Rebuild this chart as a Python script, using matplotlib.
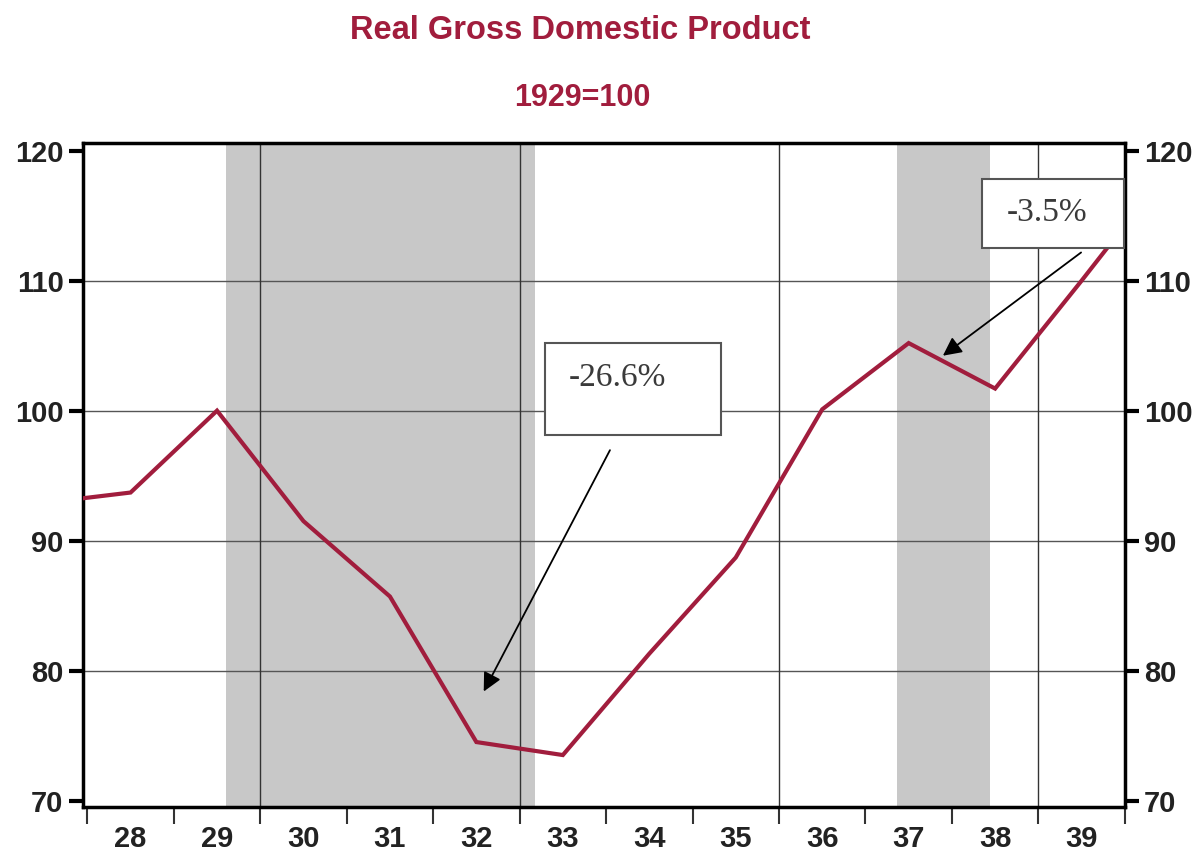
import matplotlib
matplotlib.use("Agg")
import matplotlib.pyplot as plt
from matplotlib.patches import Rectangle
from matplotlib.ticker import FixedLocator, NullFormatter

# annual real GDP, 1929 = 100 (plotted at mid-year)
years = [1927, 1928, 1929, 1930, 1931, 1932, 1933, 1934, 1935, 1936, 1937, 1938, 1939, 1940]
gdp = [92.9, 93.7, 100.0, 91.5, 85.7, 74.5, 73.5, 81.3, 88.7, 100.1, 105.2, 101.7, 110.0, 118.5]

# recession periods (decimal years)
recessions = [(1929.6, 1933.18), (1937.36, 1938.44)]

tick_years = list(range(1928, 1941))
tick_labels = ["28", "29", "30", "31", "32", "33", "34", "35", "36", "37", "38", "39"]
grid_years = [1930, 1933, 1936, 1939]
y_ticks = [70, 80, 90, 100, 110, 120]

red = "#A11D3D"

fig = plt.figure(figsize=(12.03, 8.58), dpi=100)
ax = fig.add_axes([0.069, 0.0594, 0.866, 0.774])

for start, end in recessions:
    ax.axvspan(start, end, color="#C8C8C8", lw=0, zorder=0)

for y in y_ticks[1:-1]:
    ax.axhline(y, color="#555555", lw=1, zorder=1)
for x in grid_years:
    ax.axvline(x, color="#333333", lw=1, zorder=1)

ax.plot([y + 0.5 for y in years], gdp, color=red, lw=3, zorder=3, solid_joinstyle="miter")

ax.set_xlim(1927.95, 1940.0)
ax.set_ylim(69.5, 120.6)

ax.xaxis.set_major_locator(FixedLocator(tick_years))
ax.xaxis.set_major_formatter(NullFormatter())
ax.xaxis.set_minor_locator(FixedLocator([y + 0.5 for y in tick_years[:-1]]))
ax.set_xticklabels(tick_labels, minor=True)
ax.tick_params(axis="x", which="major", direction="out", length=12, width=1.5, color="#333333")
ax.tick_params(axis="x", which="minor", length=0, pad=13, labelsize=21)

ax.set_yticks(y_ticks)
ax.tick_params(axis="y", direction="out", length=10, width=3, labelsize=21,
               left=True, right=True, labelleft=True, labelright=True, pad=4)

for lab in ax.get_xticklabels(minor=True) + ax.get_yticklabels():
    lab.set_fontweight("bold")
    lab.set_family("Liberation Sans")
    lab.set_color("#222222")

for s in ax.spines.values():
    s.set_linewidth(2.5)

# annotation boxes
ax.add_patch(Rectangle((1933.29, 98.15), 2.04, 7.05, facecolor="white",
                       edgecolor="#555555", lw=1.5, zorder=4))
ax.text(1934.13, 102.55, "-26.6%", family="Liberation Serif", fontsize=24,
        color="#3a3a3a", ha="center", va="center", zorder=5)
ax.annotate("", xy=(1932.57, 78.2), xytext=(1934.06, 97.15),
            arrowprops=dict(arrowstyle="-|>", color="black", lw=1.3,
                            mutation_scale=28), zorder=5)

ax.add_patch(Rectangle((1938.35, 112.5), 1.64, 5.35, facecolor="white",
                       edgecolor="#555555", lw=1.5, zorder=4, clip_on=False))
ax.text(1939.1, 115.2, "-3.5%", family="Liberation Serif", fontsize=24,
        color="#3a3a3a", ha="center", va="center", zorder=5)
ax.annotate("", xy=(1937.87, 104.1), xytext=(1939.52, 112.3),
            arrowprops=dict(arrowstyle="-|>", color="black", lw=1.3,
                            mutation_scale=28), zorder=5)

fig.text(0.482, 0.965, "Real Gross Domestic Product", ha="center", va="center",
         fontsize=23.5, fontweight="bold", color=red, family="Liberation Sans")
fig.text(0.484, 0.886, "1929=100", ha="center", va="center",
         fontsize=22, fontweight="bold", color=red, family="Liberation Sans")

fig.savefig("out.png", dpi=100)
